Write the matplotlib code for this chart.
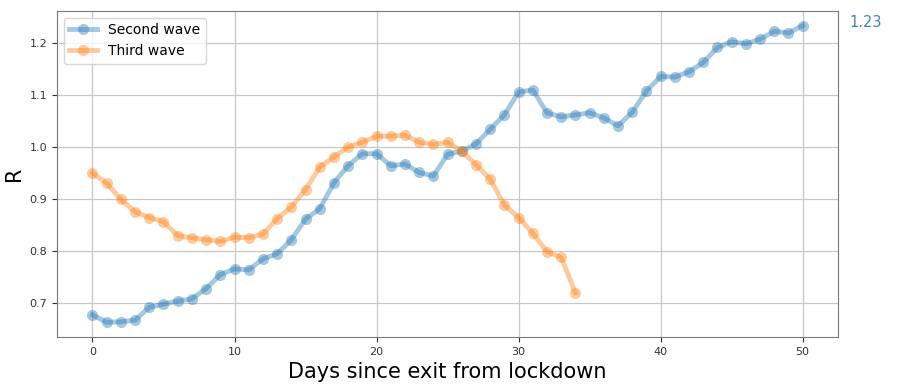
import numpy as np
import matplotlib
matplotlib.use("Agg")
import matplotlib.pyplot as plt

# R estimates
days_second = list(range(0, 51))
r_second = [0.676, 0.662, 0.663, 0.666, 0.691, 0.697, 0.703, 0.707, 0.727, 0.754,
            0.765, 0.763, 0.784, 0.794, 0.821, 0.861, 0.881, 0.931, 0.964, 0.987,
            0.987, 0.964, 0.967, 0.951, 0.944, 0.986, 0.992, 1.006, 1.034, 1.062,
            1.106, 1.110, 1.066, 1.058, 1.062, 1.066, 1.056, 1.041, 1.067, 1.108,
            1.136, 1.135, 1.145, 1.163, 1.192, 1.203, 1.199, 1.208, 1.223, 1.220,
            1.234]

days_third = list(range(0, 35))
r_third = [0.950, 0.930, 0.899, 0.875, 0.864, 0.856, 0.829, 0.825, 0.821, 0.818,
           0.826, 0.825, 0.832, 0.862, 0.884, 0.918, 0.961, 0.981, 1.000, 1.009,
           1.021, 1.021, 1.023, 1.009, 1.005, 1.009, 0.992, 0.966, 0.938, 0.888,
           0.864, 0.834, 0.798, 0.787, 0.719]

fig = plt.figure(figsize=(9.0, 3.87), dpi=100)
ax = fig.add_axes([0.0633, 0.129, 0.868, 0.843])

ax.plot(days_second, r_second, color="tab:blue", lw=3.5, marker="o", ms=8,
        mew=0, alpha=0.4, label="Second wave")
ax.plot(days_third, r_third, color="tab:orange", lw=3.5, marker="o", ms=8,
        mew=0, alpha=0.4, label="Third wave")

# last value next to the right edge
ax.annotate(f"{r_second[-1]:.2f}", xy=(1.0, r_second[-1]),
            xycoords=("axes fraction", "data"), xytext=(8, 2),
            textcoords="offset points", color="#4682c0", fontsize=10.5,
            va="center", ha="left")

ax.grid(True, color="#c8c8c8", lw=0.9)
ax.set_xlabel("Days since exit from lockdown", fontsize=15)
ax.set_ylabel("R", fontsize=15)
ax.tick_params(labelsize=8, colors="#333333")
for s in ax.spines.values():
    s.set_color("#777777")

ax.legend(loc="upper left", fontsize=10, framealpha=0.8)

fig.savefig("out.png", dpi=100)
